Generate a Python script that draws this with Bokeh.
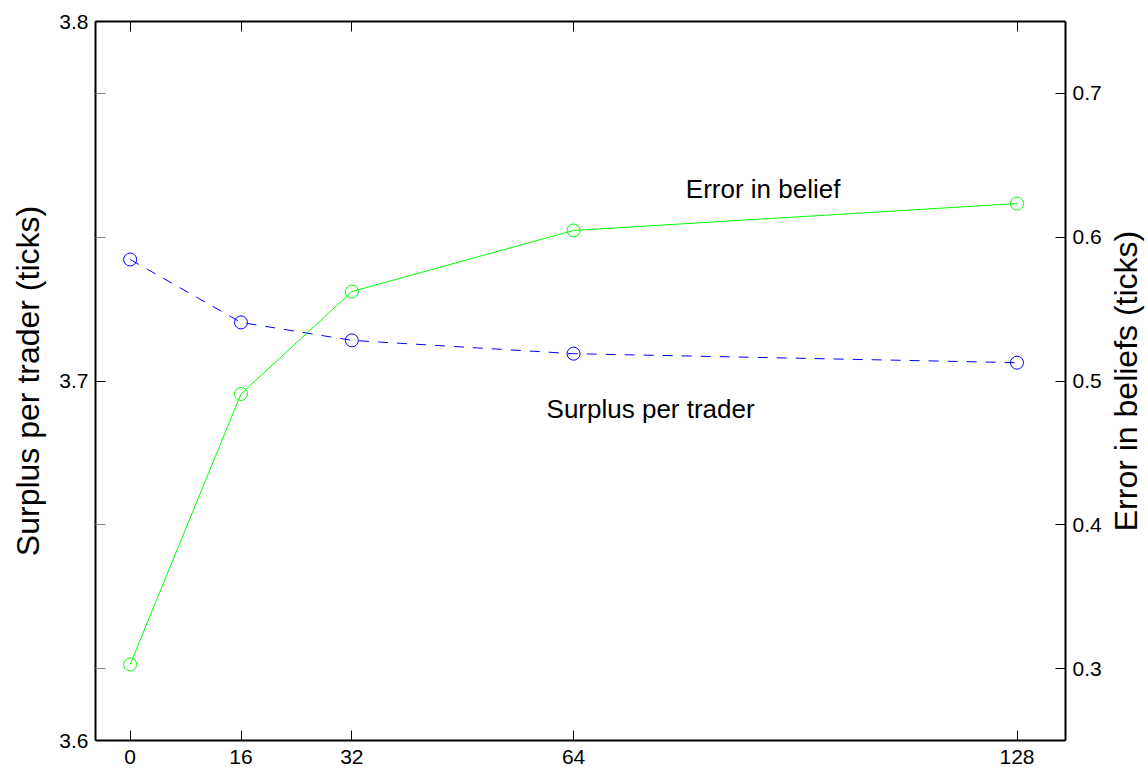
import math
from bokeh.plotting import figure
from bokeh.models import Range1d, LinearAxis, FixedTicker, Label
from bokeh.layouts import row
from bokeh.embed import file_html
from bokeh.resources import INLINE

# ---- data ----
n_values = [0, 16, 32, 64, 128]
surplus_per_trader = [3.7338, 3.7163, 3.7113, 3.7076, 3.7051]
error_in_belief = [0.3029, 0.4910, 0.5622, 0.6047, 0.6234]

x_ticks = [0, 16, 32, 64, 128]
left_ticks = [3.6, 3.7, 3.8]
left_mirror_ticks = [3.62, 3.66, 3.74, 3.78]
right_ticks = [0.3, 0.4, 0.5, 0.6, 0.7]

FONT = "Liberation Sans"
TITLE_W = 44

p = figure(width=1148 - TITLE_W, height=770, output_backend="svg", toolbar_location=None,
           x_range=Range1d(-5, 135), y_range=Range1d(3.6, 3.8),
           min_border_left=95, min_border_right=1148 - TITLE_W - 1065, min_border_top=21,
           min_border_bottom=30, x_axis_location=None, y_axis_location=None)
p.extra_y_ranges = {"err": Range1d(0.25, 0.75)}
p.grid.visible = False
p.outline_line_color = None
p.background_fill_color = "white"
p.border_fill_color = "white"


def style(ax):
    ax.axis_line_width = 2
    ax.axis_line_color = "black"
    ax.major_tick_in = 10
    ax.major_tick_out = 0
    ax.major_tick_line_color = "black"
    ax.major_tick_line_width = 1
    ax.minor_tick_in = 10
    ax.minor_tick_out = 0
    ax.minor_tick_line_color = "#808080"
    ax.minor_tick_line_width = 1
    ax.major_label_text_font = FONT
    ax.major_label_text_font_size = "21px"
    ax.major_label_text_color = "black"
    ax.axis_label_text_font = FONT
    ax.axis_label_text_font_size = "32px"
    ax.axis_label_text_font_style = "normal"
    ax.axis_label_text_color = "black"


left = LinearAxis(ticker=FixedTicker(ticks=left_ticks, minor_ticks=left_mirror_ticks),
                  axis_label="Surplus per trader (ticks)")
style(left)
left.major_label_standoff = 7
left.axis_label_standoff = 10
p.add_layout(left, "left")

right = LinearAxis(y_range_name="err", ticker=FixedTicker(ticks=right_ticks))
style(right)
right.major_label_standoff = 7
p.add_layout(right, "right")

bottom = LinearAxis(ticker=FixedTicker(ticks=x_ticks))
style(bottom)
bottom.major_label_standoff = 9
p.add_layout(bottom, "below")

# top frame edge: only (unlabelled) minor ticks at the x tick positions
top = LinearAxis(ticker=FixedTicker(ticks=[], minor_ticks=x_ticks))
style(top)
top.minor_tick_line_color = "black"
p.add_layout(top, "above")

# surplus (left axis), blue dashed
p.line(n_values, surplus_per_trader, line_color="#0000FF", line_width=1, line_dash="10 9")
p.scatter(n_values, surplus_per_trader, marker="circle", size=13,
          fill_color=None, line_color="#0000FF", line_width=1)

# error in belief (right axis), green solid
p.line(n_values, error_in_belief, line_color="#00FF00", line_width=1, y_range_name="err")
p.scatter(n_values, error_in_belief, marker="circle", size=13, fill_color=None,
          line_color="#00FF00", line_width=1, y_range_name="err")

p.add_layout(Label(x=80.2, y=0.6332, y_range_name="err", text="Error in belief",
                   text_font=FONT, text_font_size="26px", text_color="black",
                   text_baseline="alphabetic", text_align="left"))
p.add_layout(Label(x=60.1, y=3.6923, text="Surplus per trader",
                   text_font=FONT, text_font_size="26px", text_color="black",
                   text_baseline="alphabetic", text_align="left"))

# narrow strip holding the right axis title (reads bottom-to-top, like the left one)
t = figure(width=TITLE_W, height=770, output_backend="svg", toolbar_location=None,
           x_range=Range1d(0, TITLE_W), y_range=Range1d(3.6, 3.8),
           min_border_left=0, min_border_right=0, min_border_top=21, min_border_bottom=30,
           x_axis_location=None, y_axis_location=None)
t.grid.visible = False
t.outline_line_color = None
t.background_fill_color = "white"
t.border_fill_color = "white"
t.add_layout(Label(x=3, y=3.7, text="Error in beliefs (ticks)", angle=math.pi / 2,
                   text_font=FONT, text_font_size="32px", text_color="black",
                   text_baseline="top", text_align="center"))

layout = row(p, t, spacing=0)
open("out.html", "w").write(file_html(layout, INLINE))
